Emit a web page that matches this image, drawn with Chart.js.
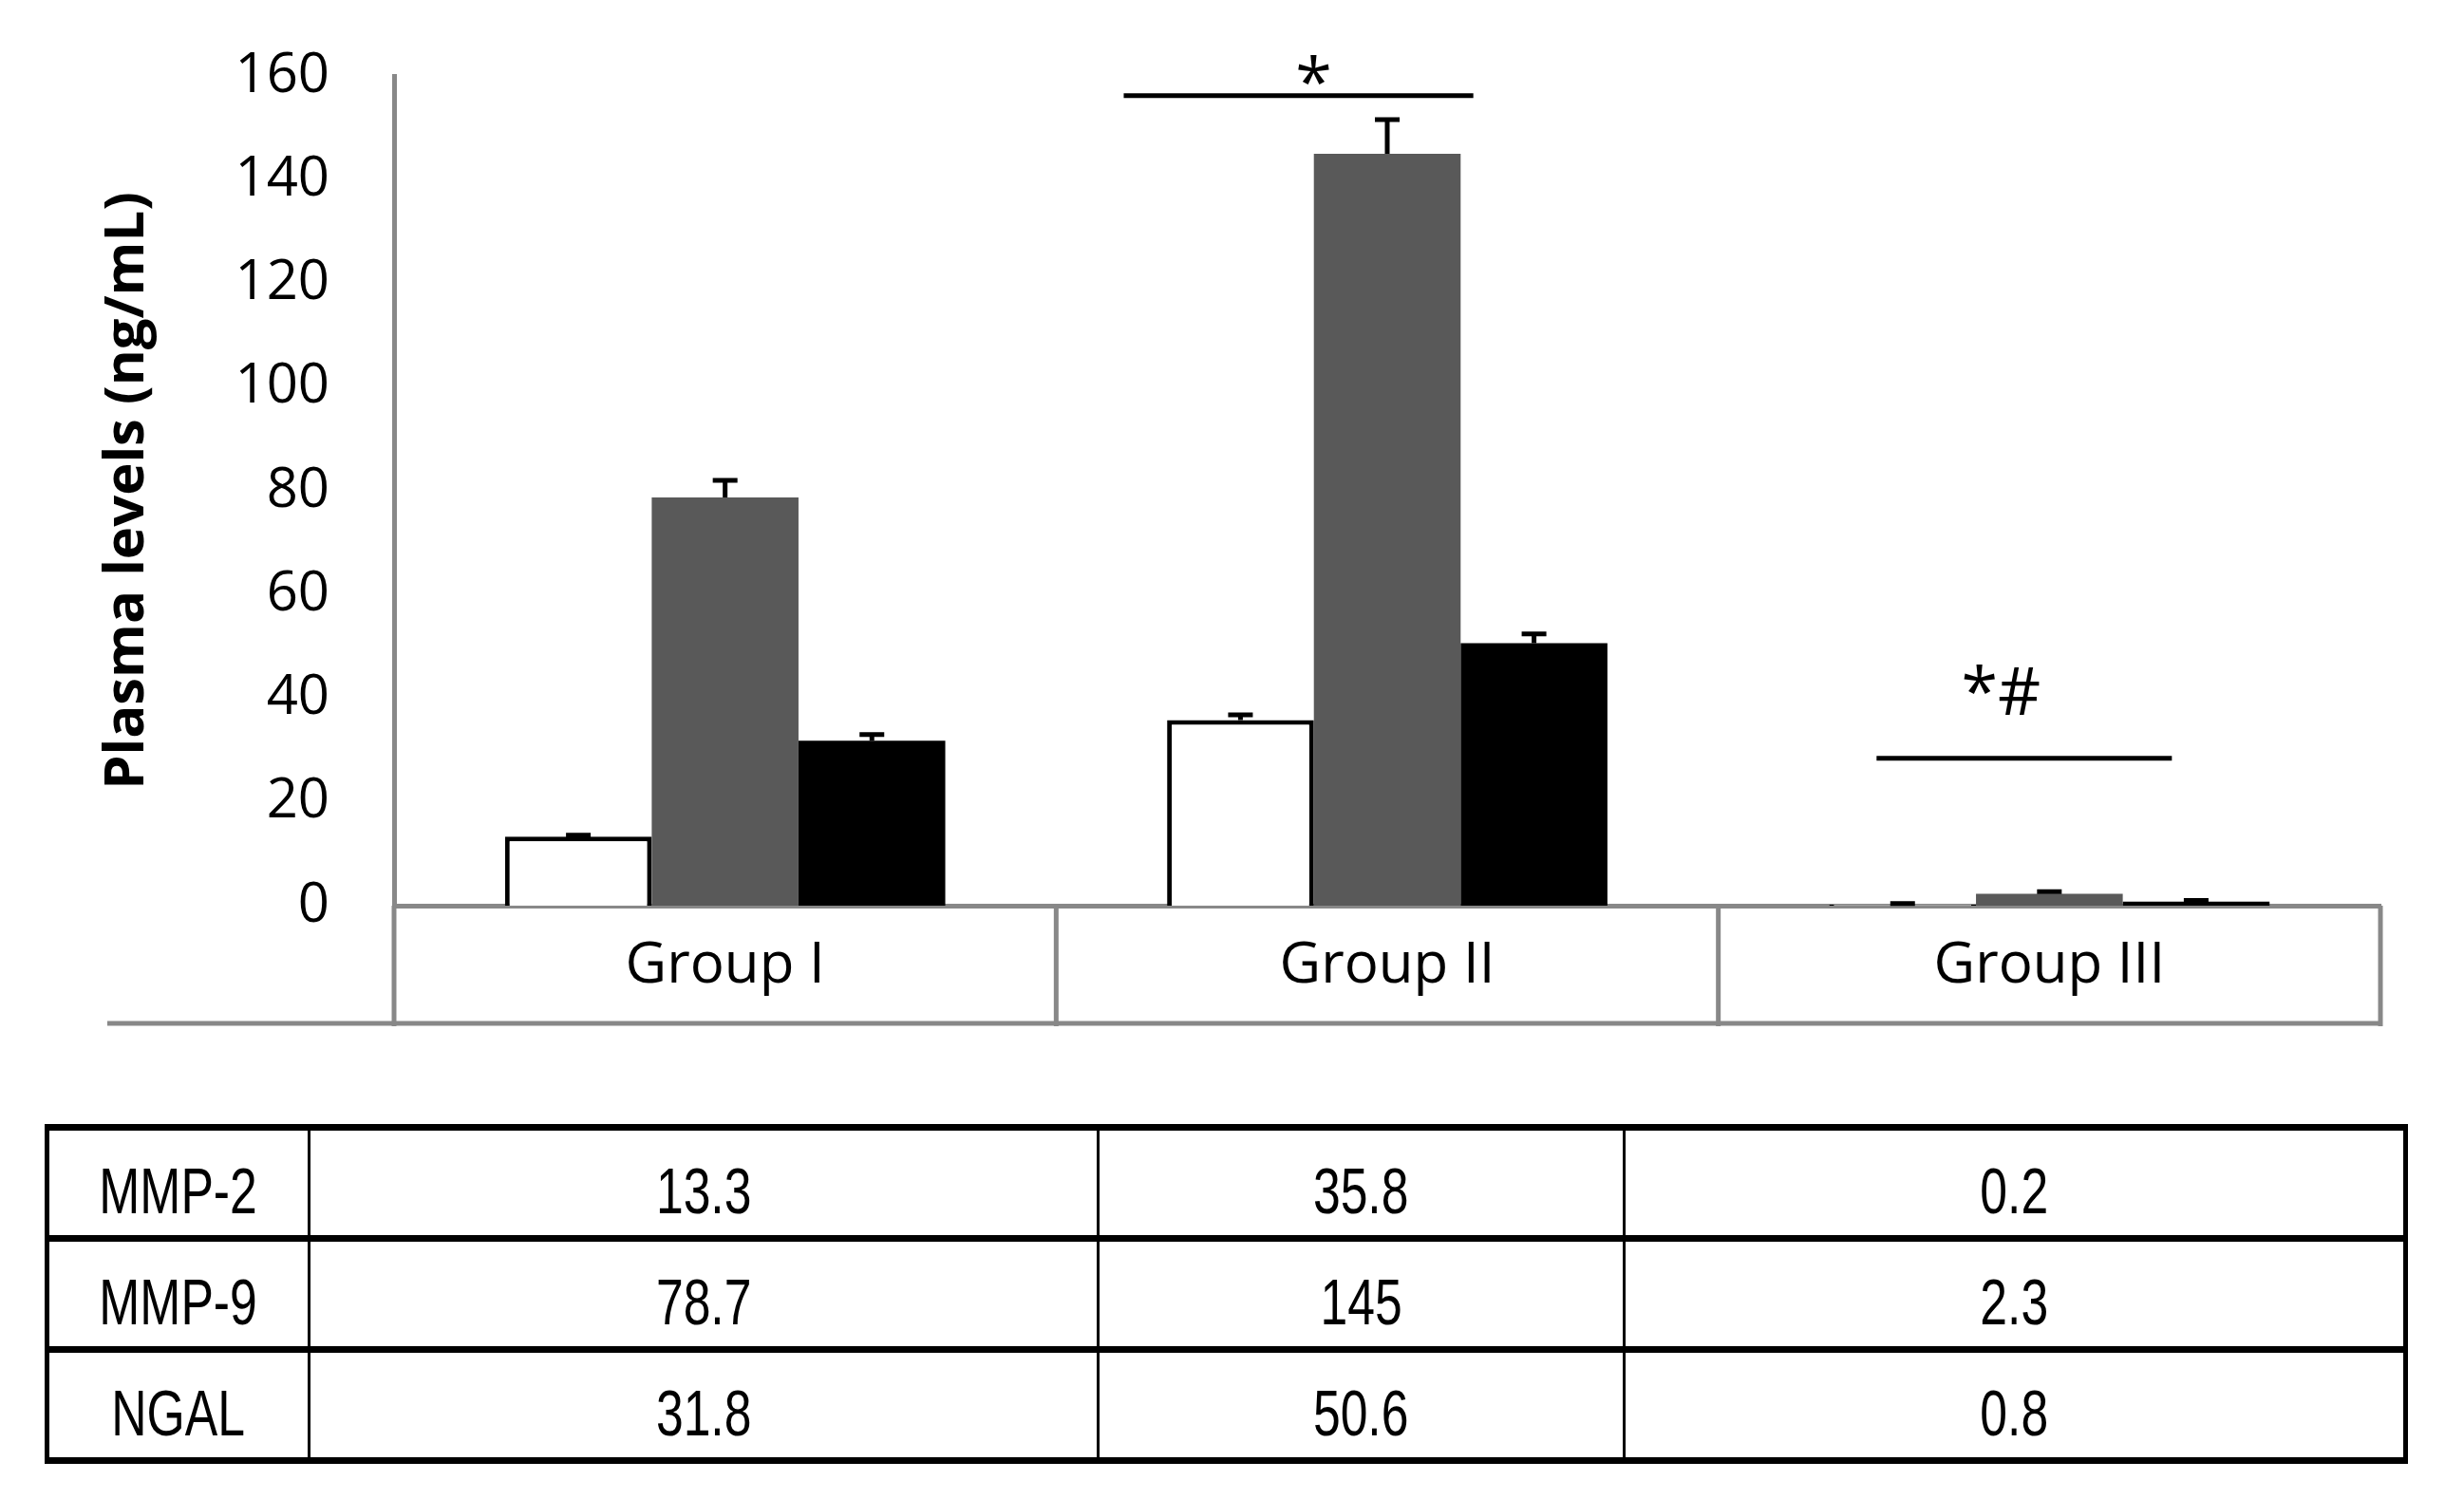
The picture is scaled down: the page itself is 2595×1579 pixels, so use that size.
<!DOCTYPE html>
<html>
<head>
<meta charset="utf-8">
<script src="https://cdn.jsdelivr.net/npm/chart.js@4"></script>
<style>
  body { margin: 0; background: #fff; width: 2595px; height: 1579px; position: relative; overflow: hidden; }
  #chartBox { position: absolute; left: 0; top: 0; width: 2595px; height: 1100px; }
  #dataTable {
    position: absolute; left: 47px; top: 1184px; width: 2484px; height: 358px;
    border-collapse: collapse; table-layout: fixed;
    font-family: "Liberation Sans Narrow", "Liberation Sans", sans-serif; font-size: 68px; color: #000;
  }
  #dataTable td {
    border-left: 3px solid #000; border-right: 3px solid #000;
    border-top: 7px solid #000; border-bottom: 7px solid #000;
    text-align: center; vertical-align: middle; padding: 16px 0 0 0;
  }
  #dataTable td:first-child { border-left-width: 5px; }
  #dataTable td:last-child { border-right-width: 5px; }
  #dataTable td span { display: inline-block; transform: scaleX(0.76); }
</style>
</head>
<body>
<div id="chartBox"><canvas id="barChart" width="2595" height="1100"></canvas></div>
<table id="dataTable"></table>
<script>
// Chart data
const groups = ["Group I", "Group II", "Group III"];
const seriesNames = ["MMP-2", "MMP-9", "NGAL"];
const mmp2 = [13.3, 35.8, 0.2];
const mmp9 = [78.7, 145, 2.3];
const ngal = [31.8, 50.6, 0.8];
// upper error bars (SEM)
const mmp2Err = [0.3, 1.0, 0.2];
const mmp9Err = [3.3, 6.6, 0.4];
const ngalErr = [1.2, 1.8, 0.2];
// significance marks: group index, line start/end as fraction of category width, level (ng/mL), text
const sigGroups = [1, 2];
const sigFrom = [-0.398, -0.261];
const sigTo = [0.13, 0.185];
const sigLevel = [156.2, 28.4];
const sigText = ["*", "*#"];
const sigTextOffset = [-0.111, -0.073];
const sigTextLift = [-10, 46];

(function () {
  const seriesValues = [mmp2, mmp9, ngal];
  const seriesErrors = [mmp2Err, mmp9Err, ngalErr];

  // fill the data table under the chart
  const table = document.getElementById("dataTable");
  const colWidths = [276, 831, 554, 823];
  let html = "<colgroup>" + colWidths.map((w) => `<col style="width:${w}px">`).join("") + "</colgroup>";
  seriesNames.forEach((name, i) => {
    html += `<tr><td><span>${name}</span></td>` +
      seriesValues[i].map((v) => `<td><span>${v}</span></td>`).join("") + "</tr>";
  });
  table.innerHTML = html;

  const axisGray = "#888888";

  // error bars drawn from the bar tops
  const errorBarPlugin = {
    id: "errorBars",
    afterDatasetsDraw(chart) {
      const ctx = chart.ctx;
      const y = chart.scales.y;
      ctx.save();
      ctx.strokeStyle = "#000";
      ctx.lineWidth = 5;
      chart.data.datasets.forEach((ds, i) => {
        const meta = chart.getDatasetMeta(i);
        meta.data.forEach((bar, j) => {
          const top = y.getPixelForValue(ds.data[j] + seriesErrors[i][j]);
          ctx.beginPath();
          ctx.moveTo(bar.x, bar.y);
          ctx.lineTo(bar.x, top);
          ctx.moveTo(bar.x - 13, top);
          ctx.lineTo(bar.x + 13, top);
          ctx.stroke();
        });
      });
      ctx.restore();
    },
  };

  // category box under the zero line + significance marks
  const decorPlugin = {
    id: "decor",
    afterDraw(chart) {
      const ctx = chart.ctx;
      const x = chart.scales.x;
      const y = chart.scales.y;
      const zero = y.getPixelForValue(0);
      const catW = x.width / groups.length;
      ctx.save();
      ctx.strokeStyle = axisGray;
      ctx.lineWidth = 5;
      for (let i = 0; i <= groups.length; i++) {
        const px = i < groups.length ? x.getPixelForValue(i) - catW / 2 : x.getPixelForValue(i - 1) + catW / 2;
        ctx.beginPath();
        ctx.moveTo(px, zero);
        ctx.lineTo(px, x.bottom + 3);
        ctx.stroke();
      }
      ctx.beginPath();
      ctx.moveTo(x.left - 302, x.bottom);
      ctx.lineTo(x.right, x.bottom);
      ctx.stroke();

      ctx.strokeStyle = "#000";
      ctx.fillStyle = "#000";
      ctx.lineWidth = 5;
      ctx.textAlign = "center";
      ctx.textBaseline = "alphabetic";
      ctx.font = "70px 'Open Sans', sans-serif";
      sigGroups.forEach((g, k) => {
        const cx = x.getPixelForValue(g);
        const ly = y.getPixelForValue(sigLevel[k]);
        ctx.beginPath();
        ctx.moveTo(cx + sigFrom[k] * catW, ly);
        ctx.lineTo(cx + sigTo[k] * catW, ly);
        ctx.stroke();
        ctx.fillText(sigText[k], cx + sigTextOffset[k] * catW, ly - sigTextLift[k]);
      });
      ctx.restore();
    },
  };

  function createBarChart() {
    const ctx = document.getElementById("barChart").getContext("2d");
    return new Chart(ctx, {
      type: "bar",
      data: {
        labels: groups,
        datasets: [
          { label: seriesNames[0], data: mmp2, backgroundColor: "#ffffff", borderColor: "#000000", borderWidth: 5, borderSkipped: "bottom" },
          { label: seriesNames[1], data: mmp9, backgroundColor: "#595959", borderWidth: 0 },
          { label: seriesNames[2], data: ngal, backgroundColor: "#000000", borderWidth: 0 },
        ],
      },
      options: {
        responsive: false,
        devicePixelRatio: 1,
        animation: false,
        layout: { padding: { top: 80, right: 88, bottom: 22, left: 0 } },
        datasets: { bar: { categoryPercentage: 0.665, barPercentage: 1.0 } },
        plugins: { legend: { display: false }, tooltip: { enabled: false } },
        scales: {
          x: {
            grid: { display: false },
            border: { display: true, color: axisGray, width: 5 },
            ticks: { color: "#000", padding: 20, font: { family: "'Open Sans', sans-serif", size: 60 } },
            afterFit: (scale) => {
              scale.height = 124;
              scale.paddingLeft = 0;
              scale.paddingRight = 0;
            },
          },
          y: {
            min: 0,
            max: 160,
            grid: { display: false },
            border: { display: true, color: axisGray, width: 5 },
            ticks: { stepSize: 20, color: "#000", padding: 60, font: { family: "'Open Sans', sans-serif", size: 58 } },
            title: {
              display: true,
              text: "Plasma levels (ng/mL)",
              color: "#000",
              padding: { top: 100, bottom: 0 },
              font: { family: "'Open Sans', sans-serif", size: 58, weight: "bold" },
            },
            afterFit: (scale) => {
              scale.width = 415;
              scale.paddingTop = 0;
              scale.paddingBottom = 0;
            },
          },
        },
      },
      plugins: [errorBarPlugin, decorPlugin],
    });
  }

  createBarChart();
})();
</script>
</body>
</html>
